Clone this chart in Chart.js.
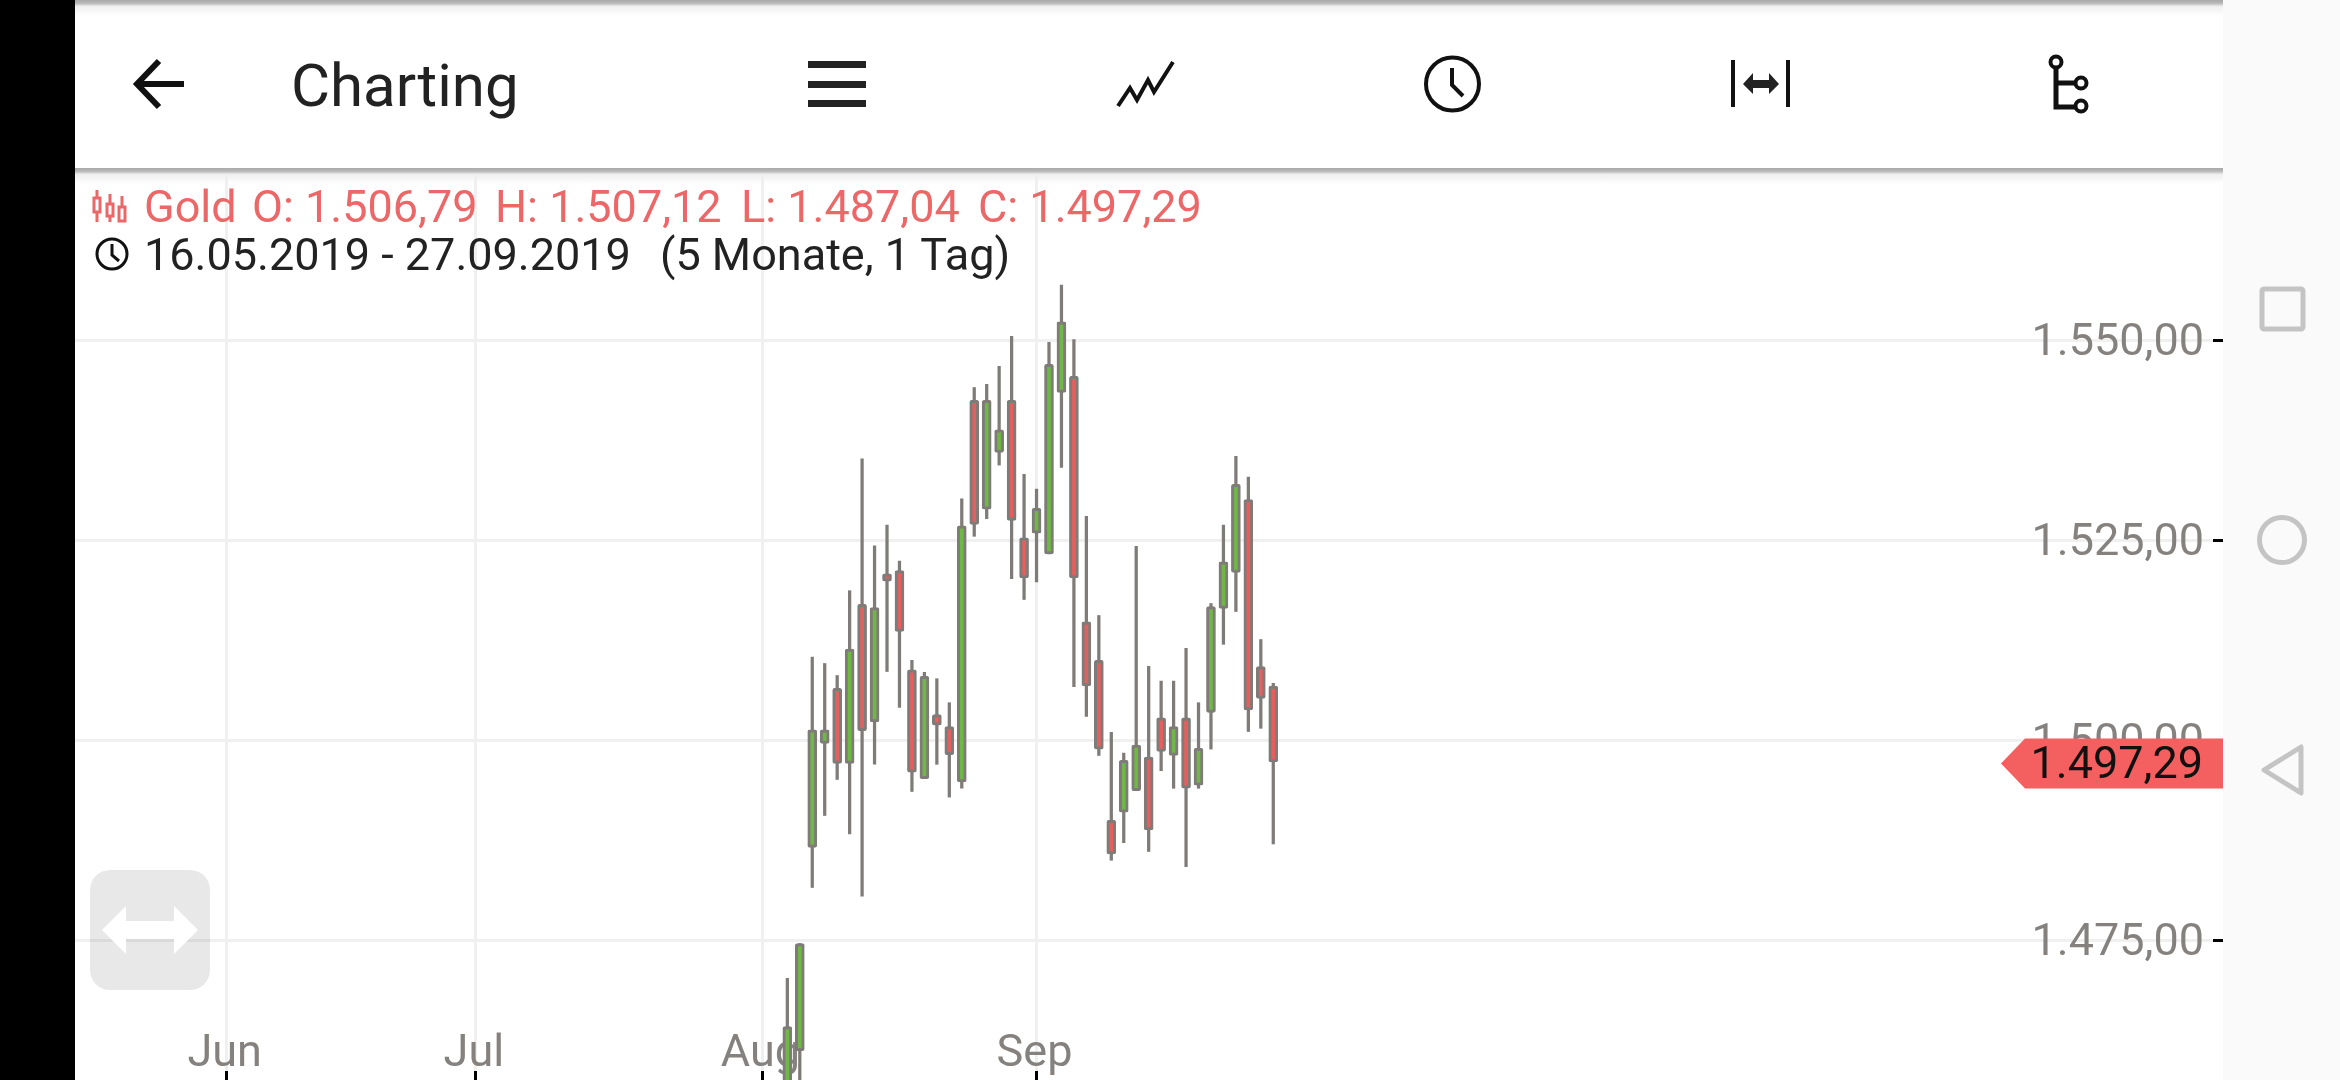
<!DOCTYPE html>
<html>
<head>
<meta charset="utf-8">
<title>Charting</title>
<script src="https://cdn.jsdelivr.net/npm/chart.js@4/dist/chart.umd.js"></script>
<style>
html, body { margin: 0; padding: 0; width: 2340px; height: 1080px; overflow: hidden; background: #fff; font-family: Roboto, sans-serif; }
#stage { position: absolute; left: 0; top: 0; width: 2340px; height: 1080px; overflow: hidden; }
#chart { position: absolute; left: 75px; top: 168px; }
#leftbar { position: absolute; left: 0; top: 0; width: 75px; height: 1080px; background: #000; }
#navbar { position: absolute; left: 2223px; top: 0; width: 117px; height: 1080px; background: #fafafa; }
#toolbar { position: absolute; left: 75px; top: 0; width: 2148px; height: 168px; background: #fff; }
.shadow { position: absolute; left: 75px; width: 2148px; height: 16px; background: linear-gradient(#a9a9a9 0, #b8b8b8 20%, #efefef 40%, rgba(255,255,255,0) 100%); }
.txt { position: absolute; white-space: pre; line-height: 1; }
.red { color: #ec6767; font-size: 45px; }
.blk { color: #222; font-size: 45px; }
svg { position: absolute; left: 0; top: 0; }
</style>
</head>
<body>
<div id="stage">
  <canvas id="chart" width="2148" height="912"></canvas>
  <div id="toolbar"></div>
  <div class="shadow" style="top:0"></div>
  <div class="shadow" style="top:168px"></div>
  <div id="leftbar"></div>
  <div id="navbar"></div>

  <div class="txt" style="left:291px;top:56px;font-size:60px;color:#222">Charting</div>
  <div class="txt red" style="left:144px;top:184px">Gold</div>
  <div class="txt red" style="left:252px;top:184px">O: 1.506,79</div>
  <div class="txt red" style="left:495px;top:184px">H: 1.507,12</div>
  <div class="txt red" style="left:741px;top:184px">L: 1.487,04</div>
  <div class="txt red" style="left:978px;top:184px">C: 1.497,29</div>
  <div class="txt blk" style="left:144px;top:232px">16.05.2019 - 27.09.2019</div>
  <div class="txt blk" style="left:660px;top:232px">(5 Monate, 1 Tag)</div>

  <svg width="2340" height="1080" viewBox="0 0 2340 1080">
    <!-- toolbar icons -->
    <g fill="none" stroke="#111" stroke-width="4">
      <path d="M184 84H139M159 61L137 84L159 107" stroke-width="6"/>
      <path d="M1118 106L1130 88L1137 100L1148 80L1154 92L1173 62"/>
      <circle cx="1452.5" cy="84" r="26.5"/>
      <path d="M1452 68V85L1463 96"/>
      <path d="M1733 60V107M1788 60V107"/>
      <path d="M2056 68V107H2076M2056 83H2076" stroke-width="5"/>
      <circle cx="2056" cy="62" r="5.5"/>
      <circle cx="2081" cy="83" r="5.5"/>
      <circle cx="2081" cy="106" r="5.5"/>
    </g>
    <g fill="#222">
      <rect x="808" y="61" width="58" height="7"/>
      <rect x="808" y="81" width="58" height="7"/>
      <rect x="808" y="100" width="58" height="7"/>
      <path d="M1743 84L1753 73V80H1769V73L1779 84L1769 94V88H1753V94Z"/>
    </g>
    <!-- legend icons -->
    <g fill="none" stroke="#ec6767" stroke-width="3">
      <path d="M97 190V222M110 194V222M122 196V222"/>
      <rect x="94" y="198" width="6" height="14" fill="#fff"/>
      <rect x="107" y="204" width="6" height="12" fill="#fff"/>
      <rect x="119" y="207" width="6" height="14" fill="#fff"/>
    </g>
    <g fill="none" stroke="#111" stroke-width="3">
      <circle cx="112" cy="254" r="15"/>
      <path d="M112 244V255L119 261"/>
    </g>
    <!-- scroll button -->
    <rect x="90" y="870" width="120" height="120" rx="20" fill="#000" fill-opacity="0.09"/>
    <path d="M102 930L126 906V921H174V906L198 930L174 954V939H126V954Z" fill="#fff"/>
    <!-- android nav -->
    <g fill="none" stroke="#c4c4c4" stroke-width="5" stroke-linejoin="round">
      <rect x="2262" y="289" width="41" height="40" rx="2"/>
      <circle cx="2282" cy="540" r="22.5"/>
      <path d="M2264 770L2301 747V793Z"/>
    </g>
  </svg>
</div>

<script>
// values, trading day 0 = 16.05.2019
var days = [57,58,59,60,61,62,63,64,65,66,67,68,69,70,71,72,73,74,75,76,77,78,79,80,81,82,83,84,85,86,87,88,89,90,91,92,93,94,95,96];
var opens = [1442,1461.2,1486.6,1499.6,1506.5,1497.1,1517,1502.3,1520.8,1521.2,1508.8,1495.2,1503.2,1501.7,1494.8,1542.5,1528.9,1536,1542.5,1525.3,1525.9,1523.3,1543.5,1545.5,1514.8,1510,1490,1491,1493.7,1497.9,1502.8,1498.1,1502.8,1494.4,1503.5,1516.5,1521,1530.1,1509.2,1506.79];
var highs = [1470.25,1474.6,1510.4,1509.6,1508.1,1518.7,1535.2,1524.3,1526.9,1522.4,1510,1508.5,1507.7,1504.7,1530.2,1544.1,1544.5,1546.75,1550.5,1533.25,1531.4,1549.75,1556.9,1550.1,1528,1515.6,1501,1498.4,1524.25,1509.25,1507.4,1507.4,1511.5,1504.7,1517.1,1526.9,1535.5,1532.9,1512.6,1507.12];
var lows = [1440,1452,1481.6,1490.6,1495.1,1488.3,1480.5,1497,1508.6,1504.1,1493.6,1495.2,1497,1492.9,1494,1525.5,1527.7,1534.4,1520.2,1517.6,1519.8,1523.3,1534.1,1506.7,1503,1498.1,1485,1487.2,1493.7,1486.1,1496.2,1494,1484.2,1494,1498.9,1512,1516.1,1501.1,1501.5,1487.04];
var closes = [1464.2,1474.6,1501.3,1501.3,1497.1,1511.4,1501.2,1516.6,1519.9,1513.6,1496,1508,1501.9,1498.2,1526.8,1527,1542.5,1538.8,1527.5,1520.3,1529,1547,1552.3,1520.3,1506.8,1498.9,1485.8,1497.5,1499.4,1488.8,1498.6,1501.7,1494,1499,1516.7,1522.3,1532,1503.8,1505.25,1497.29];

var monthDays = [12,32,55,77];
var monthLabels = ['Jun','Jul','Aug','Sep'];
var priceTicks = [1475,1500,1525,1550];
var priceLabels = ['1.475,00','1.500,00','1.525,00','1.550,00'];
var lastPriceLabel = '1.497,29';

var wickColor = '#7f7b78';
var upColor = '#70b845';
var downColor = '#e45f5d';
var gridColor = '#f0f0f0';
var tickFont = {family: 'Roboto', size: 45};

var wicks = [];
var bodies = [];
var bodyColors = [];
for (var i = 0; i < days.length; i++) {
  wicks.push({x: days[i], y: [lows[i], highs[i]]});
  bodies.push({x: days[i], y: [opens[i], closes[i]]});
  bodyColors.push(closes[i] >= opens[i] ? upColor : downColor);
}

// red price tag on the right, sits on top of the 1.500 label
var lastPriceTag = {
  id: 'lastPriceTag',
  afterDatasetsDraw: function (chart) {
    var ctx = chart.ctx;
    var y = chart.scales.y.getPixelForValue(closes[closes.length - 1]) + 1.5;
    var r = chart.width;
    ctx.save();
    ctx.fillStyle = '#f45f5f';
    ctx.beginPath();
    ctx.moveTo(r - 198, y - 25);
    ctx.lineTo(r, y - 25);
    ctx.lineTo(r, y + 25);
    ctx.lineTo(r - 198, y + 25);
    ctx.lineTo(r - 222, y);
    ctx.closePath();
    ctx.fill();
    ctx.fillStyle = '#111';
    ctx.font = '45px Roboto';
    ctx.textAlign = 'right';
    ctx.textBaseline = 'middle';
    ctx.fillText(lastPriceLabel, r - 20, y + 3);
    ctx.restore();
  }
};

new Chart(document.getElementById('chart'), {
  type: 'bar',
  plugins: [lastPriceTag],
  data: {
    datasets: [
      {data: wicks, backgroundColor: wickColor, barThickness: 2.6, borderWidth: 0, clip: false, order: 2},
      {data: bodies, backgroundColor: bodyColors, borderColor: wickColor, borderWidth: 3, borderRadius: 2, borderSkipped: false, barThickness: 9, clip: false, order: 1}
    ]
  },
  options: {
    responsive: false,
    animation: false,
    grouped: false,
    layout: {padding: 0, autoPadding: false},
    plugins: {legend: {display: false}, tooltip: {enabled: false}},
    scales: {
      x: {
        type: 'linear',
        position: 'bottom',
        offset: false,
        min: -0.17,
        max: 171.42,
        grid: {offset: false, color: gridColor, lineWidth: 3, tickColor: '#000', tickWidth: 3, tickLength: 9},
        border: {display: false},
        afterBuildTicks: function (scale) {
          scale.ticks = monthDays.map(function (d) { return {value: d}; });
        },
        afterFit: function (scale) {
          scale.height = 9;
          scale.paddingLeft = 0;
          scale.paddingRight = 0;
        },
        ticks: {
          mirror: true,
          autoSkip: false,
          maxRotation: 0,
          color: '#85817e',
          font: tickFont,
          padding: -11,
          labelOffset: -2,
          callback: function (v) { return monthLabels[monthDays.indexOf(v)]; }
        }
      },
      y: {
        position: 'right',
        min: 1458.66,
        max: 1571.54,
        grid: {color: gridColor, lineWidth: 3, tickColor: '#000', tickWidth: 3, tickLength: 10},
        border: {display: false},
        afterBuildTicks: function (scale) {
          scale.ticks = priceTicks.map(function (p) { return {value: p}; });
        },
        afterFit: function (scale) {
          scale.width = 10;
          scale.paddingTop = 0;
          scale.paddingBottom = 0;
        },
        ticks: {
          mirror: true,
          color: '#85817e',
          font: tickFont,
          padding: -9,
          labelOffset: 3,
          callback: function (v) { return priceLabels[priceTicks.indexOf(v)]; }
        }
      }
    }
  }
});
</script>
</body>
</html>
